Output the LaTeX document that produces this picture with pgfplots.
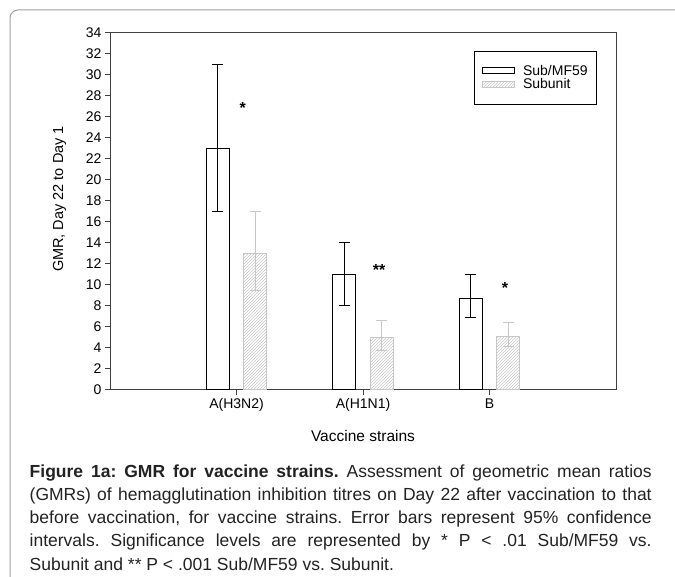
\documentclass[border=0pt]{standalone}
\usepackage{fontspec}
\setmainfont{Liberation Sans}
\usepackage{pgfplots}
\pgfplotsset{compat=1.18}
\usetikzlibrary{patterns}
\definecolor{subgray}{HTML}{C8C8C8}
\definecolor{framegray}{HTML}{A0A0A0}
\definecolor{axgray}{HTML}{404040}
\definecolor{captext}{HTML}{222222}
\pgfplotsset{mylegend/.style={legend image code/.code={\draw[#1] (0pt,-3pt) rectangle (32pt,3pt);}}}
\begin{document}
\frenchspacing
\begin{tikzpicture}[x=1pt,y=1pt]
\useasboundingbox (0,0) rectangle (675,577);
\draw[framegray, line width=1pt, rounded corners=8pt] (10,-5) -- (10,567) -- (690,567);
\begin{axis}[
  at={(110pt,187pt)}, anchor=south west,
  scale only axis, width=506pt, height=357pt,
  xmin=0, xmax=4, ymin=0, ymax=34,
  ytick={0,2,...,34},
  xtick={1,2,3}, xticklabels={A(H3N2),A(H1N1),B},
  tick align=outside, tick pos=left,
  major tick length=5pt,
  axis line style={axgray, line width=1pt},
  tick style={axgray, line width=1pt},
  ticklabel style={font=\fontsize{14}{16}\selectfont},
  /pgf/number format/assume math mode=true,
  xlabel={Vaccine strains},
  ylabel={GMR, Day 22 to Day 1},
  every axis x label/.style={at={(axis description cs:0.5,-0.128)}, anchor=center, font=\fontsize{15.5}{17}\selectfont},
  every axis y label/.style={at={(axis description cs:-0.0998,0.535)}, rotate=90, anchor=center, font=\fontsize{14.5}{16}\selectfont},
  legend style={at={(axis description cs:0.9625,0.9504)}, anchor=north east,
    draw=black, line width=0.8pt, inner xsep=8pt, inner ysep=13pt,
    font=\fontsize{14}{14}\selectfont,
    nodes={inner sep=1pt}, row sep=0pt, column sep=7pt},
  legend cell align=left,
]
\addplot[ybar, bar width=23pt, bar shift=0pt, draw=black, fill=white, line width=1pt, mylegend,
  error bars/.cd, y dir=both, y explicit,
  error bar style={black, line width=1pt},
  error mark options={rotate=90, black, mark size=5.5pt, line width=1pt}]
  coordinates {(0.85,23) += (0,8) -= (0,6)
               (1.85,11) += (0,3) -= (0,3)
               (2.85,8.7) += (0,2.3) -= (0,1.75)};
\addlegendentry{Sub/MF59}
\addplot[ybar, bar width=23pt, bar shift=0pt, draw=subgray, pattern=north east lines, pattern color=subgray, line width=1pt, mylegend,
  error bars/.cd, y dir=both, y explicit,
  error bar style={subgray, line width=1pt},
  error mark options={rotate=90, subgray, mark size=5.5pt, line width=1pt}]
  coordinates {(1.15,13) += (0,4) -= (0,3.5)
               (2.15,5.0) += (0,1.6) -= (0,1.2)
               (3.15,5.1) += (0,1.35) -= (0,1.0)};
\addlegendentry{Subunit}
\node[font=\bfseries\fontsize{16}{16}\selectfont] at (axis cs:1.05,26.9) {*};
\node[font=\bfseries\fontsize{16}{16}\selectfont] at (axis cs:2.127,11.4) {**};
\node[font=\bfseries\fontsize{16}{16}\selectfont] at (axis cs:3.123,9.7) {*};
\end{axis}
\node[anchor=base west, inner sep=0pt, text width=622pt, align=justify, text=captext,
  font=\fontsize{17.5}{23.2}\selectfont] at (29.5,99.7)
  {\textbf{Figure 1a: GMR for vaccine strains.} Assessment of geometric mean ratios\linebreak
  (GMRs) of hemagglutination inhibition titres on Day 22 after vaccination to that\linebreak
  before vaccination, for vaccine strains. Error bars represent 95\% confidence\linebreak
  intervals. Significance levels are represented by * P < .01 Sub/MF59 vs.\linebreak
  Subunit and ** P < .001 Sub/MF59 vs. Subunit.};
\end{tikzpicture}
\end{document}
